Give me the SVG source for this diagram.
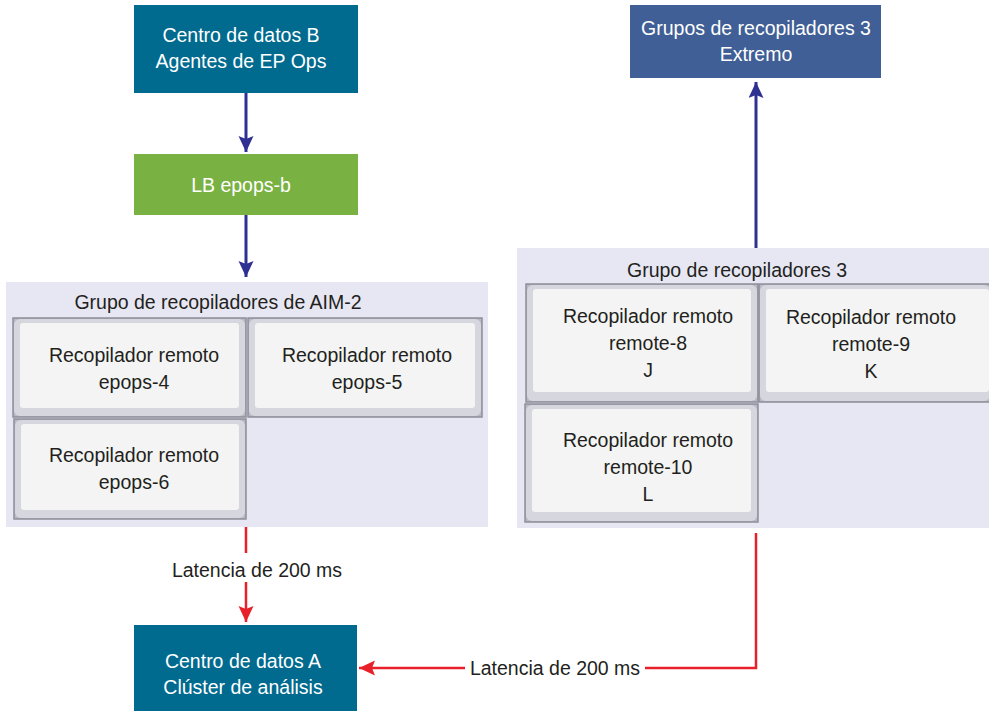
<svg xmlns="http://www.w3.org/2000/svg" width="989" height="711" viewBox="0 0 989 711">
<style>
text{font-family:"Liberation Sans",Arial,sans-serif;font-size:19.5px;text-anchor:middle}
.w{fill:#ffffff}
.d{fill:#231f20}
.grp{fill:#e7e7f3}
.frame{fill:#b9b9c4;stroke:#8f8f9a;stroke-width:1.5}
.bevel{fill:#d6d7de}
.inner{fill:#f3f4f3}
.blue{stroke:#2e3192;stroke-width:3;fill:none}
.red{stroke:#e8202a;stroke-width:2.5;fill:none}
</style>
<defs>
<marker id="ab" markerUnits="userSpaceOnUse" markerWidth="18" markerHeight="16" refX="16" refY="7.5" orient="auto">
<path d="M0,0 L16,7.5 L0,15 L3,7.5 z" fill="#2e3192"/>
</marker>
<marker id="ar" markerUnits="userSpaceOnUse" markerWidth="18" markerHeight="16" refX="16" refY="7.5" orient="auto">
<path d="M0,0 L16,7.5 L0,15 L3,7.5 z" fill="#e8202a"/>
</marker>
</defs>
<rect width="989" height="711" fill="#ffffff"/>

<g id="grupo-aim2">
<rect class="grp" x="6" y="282" width="482" height="245"/>
<text class="d" x="218" y="309">Grupo de recopiladores de AIM-2</text>
</g>
<g id="grupo-3">
<rect class="grp" x="517" y="248" width="472" height="280"/>
<text class="d" x="737" y="277">Grupo de recopiladores 3</text>
</g>

<g id="centro-b">
<rect x="134" y="5" width="224" height="88" fill="#006a8f"/>
<text class="w" x="241" y="42">Centro de datos B</text>
<text class="w" x="241" y="68">Agentes de EP Ops</text>
</g>
<g id="lb-epops-b">
<rect x="134" y="154" width="224" height="61" fill="#7ab143"/>
<text class="w" x="241" y="192">LB epops-b</text>
</g>
<g id="extremo">
<rect x="630" y="5" width="251" height="73" fill="#3f5f96"/>
<text class="w" x="756" y="35">Grupos de recopiladores 3</text>
<text class="w" x="756" y="61">Extremo</text>
</g>
<g id="centro-a">
<rect x="134" y="625" width="223" height="86" fill="#006a8f"/>
<text class="w" x="243" y="668">Centro de datos A</text>
<text class="w" x="243" y="694">Clúster de análisis</text>
</g>

<g id="epops-4">
<rect class="frame" x="13" y="318" width="233" height="99"/>
<rect class="bevel" x="14" y="319" width="231" height="97" rx="6"/>
<rect class="inner" x="20" y="323" width="219" height="85" rx="3"/>
<text class="d" x="134" y="362">Recopilador remoto</text>
<text class="d" x="134" y="389">epops-4</text>
</g>
<g id="epops-5">
<rect class="frame" x="248" y="318" width="234" height="99"/>
<rect class="bevel" x="249" y="319" width="232" height="97" rx="6"/>
<rect class="inner" x="255" y="323" width="220" height="85" rx="3"/>
<text class="d" x="367" y="362">Recopilador remoto</text>
<text class="d" x="367" y="389">epops-5</text>
</g>
<g id="epops-6">
<rect class="frame" x="14" y="419" width="232" height="100"/>
<rect class="bevel" x="15" y="420" width="230" height="98" rx="6"/>
<rect class="inner" x="21" y="424" width="218" height="86" rx="3"/>
<text class="d" x="134" y="462">Recopilador remoto</text>
<text class="d" x="134" y="489">epops-6</text>
</g>
<g id="remote-8">
<rect class="frame" x="526" y="284" width="232" height="118"/>
<rect class="bevel" x="527" y="285" width="230" height="116" rx="6"/>
<rect class="inner" x="533" y="289" width="218" height="103" rx="3"/>
<text class="d" x="648" y="323">Recopilador remoto</text>
<text class="d" x="648" y="350">remote-8</text>
<text class="d" x="648" y="377">J</text>
</g>
<g id="remote-9">
<rect class="frame" x="759" y="284" width="232" height="118"/>
<rect class="bevel" x="760" y="285" width="230" height="116" rx="6"/>
<rect class="inner" x="766" y="289" width="223" height="103" rx="3"/>
<text class="d" x="871" y="324">Recopilador remoto</text>
<text class="d" x="871" y="351">remote-9</text>
<text class="d" x="871" y="378">K</text>
</g>
<g id="remote-10">
<rect class="frame" x="525" y="404" width="233" height="118"/>
<rect class="bevel" x="526" y="405" width="231" height="116" rx="6"/>
<rect class="inner" x="532" y="409" width="219" height="103" rx="3"/>
<text class="d" x="648" y="447">Recopilador remoto</text>
<text class="d" x="648" y="474">remote-10</text>
<text class="d" x="648" y="501">L</text>
</g>

<g id="connectors">
<line class="blue" x1="246" y1="93" x2="246" y2="152" marker-end="url(#ab)"/>
<line class="blue" x1="246" y1="215" x2="246" y2="277" marker-end="url(#ab)"/>
<line class="blue" x1="756" y1="248" x2="756" y2="82" marker-end="url(#ab)"/>
<line class="red" x1="246" y1="527" x2="246" y2="553"/>
<line class="red" x1="246" y1="582" x2="246" y2="622" marker-end="url(#ar)"/>
<text class="d" x="257" y="577">Latencia de 200 ms</text>
<polyline class="red" points="756,533 756,668 645,668"/>
<line class="red" x1="465" y1="668" x2="359" y2="668" marker-end="url(#ar)"/>
<text class="d" x="555" y="675">Latencia de 200 ms</text>
</g>
</svg>
